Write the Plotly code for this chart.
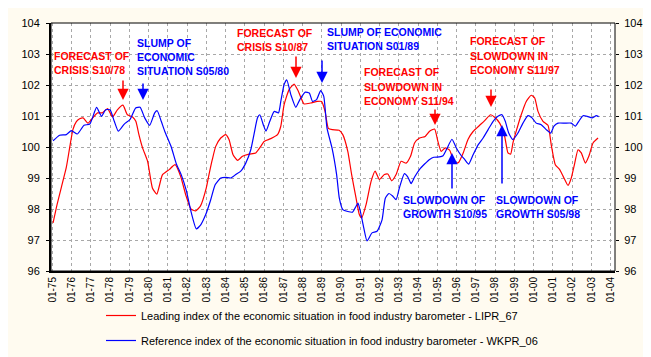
import plotly.graph_objects as go

# ---------------- data ----------------
lipr_years = [1975.04, 1975.25, 1975.47, 1975.73, 1975.9, 1976.07, 1976.25, 1976.42, 1976.6, 1976.85,
              1977.1, 1977.35, 1977.6, 1977.87, 1978.13, 1978.38, 1978.67, 1978.9, 1979.17, 1979.34,
              1979.5, 1979.69, 1979.95, 1980.2, 1980.43, 1980.72, 1981.07, 1981.38, 1981.67, 1981.93,
              1982.2, 1982.45, 1982.7, 1983.0, 1983.14, 1983.31, 1983.49, 1983.75, 1984.01, 1984.18,
              1984.39, 1984.62, 1984.88, 1985.22, 1985.57, 1985.83, 1986.0, 1986.35, 1986.7, 1986.87,
              1987.04, 1987.3, 1987.56, 1987.78, 1988.08, 1988.42, 1988.77, 1988.99, 1989.17, 1989.34,
              1989.55, 1989.9, 1990.09, 1990.35, 1990.55, 1990.78, 1990.95, 1991.07, 1991.3, 1991.56,
              1991.77, 1991.99, 1992.25, 1992.43, 1992.63, 1992.86, 1993.12, 1993.38, 1993.61, 1993.82,
              1994.08, 1994.37, 1994.6, 1994.86, 1995.03, 1995.2, 1995.41, 1995.64, 1995.9, 1996.1,
              1996.34, 1996.6, 1996.86, 1997.2, 1997.46, 1997.77, 1997.98, 1998.24, 1998.5, 1998.67,
              1998.81, 1998.93, 1999.1, 1999.36, 1999.62, 1999.88, 2000.06, 2000.23, 2000.49, 2000.75,
              2000.92, 2001.13, 2001.36, 2001.58, 2001.79, 2001.96, 2002.14, 2002.31, 2002.48, 2002.69,
              2002.87, 2003.09, 2003.35]
lipr_values = [97.55, 98.15, 98.7, 99.35, 99.97, 100.56, 100.82, 100.91, 100.94, 100.77,
               100.94, 101.1, 101.1, 101.24, 100.97, 101.2, 101.35, 101.04, 100.97, 100.83,
               100.4, 99.97, 99.54, 98.68, 98.48, 99.1, 99.27, 99.43, 99.05, 98.46,
               98.0, 97.94, 98.1, 98.68, 99.11, 99.59, 100.02, 100.29, 100.4, 100.24,
               99.75, 99.57, 99.7, 99.77, 99.81, 100.02, 100.18, 100.27, 100.4, 100.67,
               101.36, 101.85, 102.03, 101.8, 101.39, 101.42, 101.47, 101.47, 101.15, 100.6,
               100.56, 100.54, 100.4, 99.86, 99.11, 98.35, 97.82, 97.71, 98.14, 98.89,
               99.22, 98.95, 99.11, 99.13, 98.91, 99.11, 99.54, 99.48, 99.7, 100.13,
               100.29, 100.34, 100.51, 100.58, 100.18, 99.86, 99.97, 99.9, 99.48, 99.5,
               99.8, 100.25, 100.5, 100.7, 100.85, 101.04, 100.96, 100.77, 100.34, 99.81,
               99.77, 100.13, 100.51, 101.04, 101.47, 101.67, 101.58, 101.15, 100.83, 100.7,
               100.07, 99.43, 99.27, 99.0, 98.76, 99.0, 99.48, 99.91, 99.81, 99.48,
               99.7, 100.13, 100.29]

wkpr_years = [1975.04, 1975.38, 1975.73, 1975.99, 1976.3, 1976.65, 1976.95, 1977.3, 1977.56, 1977.77,
              1978.0, 1978.22, 1978.43, 1978.74, 1979.03, 1979.33, 1979.56, 1979.8, 1980.06, 1980.32,
              1980.45, 1980.66, 1980.84, 1981.18, 1981.44, 1981.7, 1981.96, 1982.2, 1982.48, 1982.71,
              1982.97, 1983.23, 1983.46, 1983.75, 1984.01, 1984.27, 1984.53, 1984.79, 1985.05, 1985.31,
              1985.49, 1985.66, 1985.78, 1985.96, 1986.1, 1986.3, 1986.53, 1986.75, 1986.87, 1987.04,
              1987.18, 1987.39, 1987.65, 1987.86, 1988.14, 1988.35, 1988.52, 1988.73, 1988.94, 1989.1,
              1989.27, 1989.53, 1989.77, 1989.91, 1990.09, 1990.35, 1990.6, 1990.78, 1990.88, 1991.0,
              1991.18, 1991.35, 1991.61, 1991.87, 1992.13, 1992.3, 1992.49, 1992.68, 1992.86, 1993.03,
              1993.29, 1993.47, 1993.64, 1993.82, 1994.08, 1994.34, 1994.6, 1994.82, 1995.11, 1995.3,
              1995.5, 1995.76, 1995.99, 1996.21, 1996.42, 1996.63, 1996.86, 1997.12, 1997.38, 1997.64,
              1997.9, 1998.15, 1998.36, 1998.53, 1998.71, 1998.93, 1999.19, 1999.45, 1999.71, 1999.92,
              2000.14, 2000.4, 2000.66, 2000.89, 2001.06, 2001.27, 2001.62, 2001.96, 2002.17, 2002.35,
              2002.57, 2002.79, 2003.04, 2003.26, 2003.38]
wkpr_values = [100.2, 100.38, 100.4, 100.53, 100.42, 100.7, 100.74, 101.28, 100.99, 101.2,
               101.2, 100.83, 100.51, 100.74, 100.88, 101.26, 101.28, 100.94, 100.7, 101.1,
               101.17, 100.83, 100.51, 100.0, 99.46, 99.1, 98.6, 97.93, 97.36, 97.49,
               97.82, 98.3, 98.78, 99.0, 99.02, 99.0, 99.11, 99.22, 99.48, 99.91,
               100.45, 100.94, 101.04, 100.72, 100.51, 100.83, 101.15, 101.1, 101.47, 102.01,
               102.17, 101.69, 101.28, 101.53, 101.77, 101.74, 101.47, 101.53, 101.82, 101.64,
               100.61, 99.97, 99.11, 98.35, 97.98, 97.92, 97.9, 98.09, 98.19, 97.93,
               97.39, 96.97, 97.23, 97.28, 97.65, 98.35, 98.5, 98.42, 98.3, 98.68,
               99.14, 99.03, 98.82, 99.03, 99.28, 99.45, 99.6, 99.67, 99.68, 99.72,
               99.95, 100.25, 99.97, 99.75, 99.6, 99.45, 99.75, 100.07, 100.29, 100.56,
               100.83, 100.99, 101.04, 100.83, 100.45, 100.24, 100.45, 100.77, 101.01, 100.94,
               100.77, 100.72, 100.56, 100.45, 100.67, 100.77, 100.77, 100.77, 100.67, 100.83,
               101.01, 100.99, 100.94, 101.01, 100.98]

tick_years = list(range(1975, 2005))
tick_labels = ["01-%02d" % (y % 100) for y in tick_years]
y_ticks = [96, 97, 98, 99, 100, 101, 102, 103, 104]

series_names = ["Leading index of the economic situation in food industry barometer - LIPR_67",
                "Reference index of the economic situation in food industry barometer - WKPR_06"]

RED = "#FF0000"
BLUE = "#0000FF"
BG = "#FFFBF0"

# plot area in pixels
W, H = 651, 357
L, R, T, B = 43, 607, 15, 263


def px(x):
    return (x - L) / (R - L)


def py(y):
    return (B - y) / (B - T)


fig = go.Figure()
fig.add_trace(go.Scatter(x=lipr_years, y=lipr_values, mode="lines", name=series_names[0],
                         line=dict(color=RED, width=1.2, shape="spline", smoothing=0.5),
                         legendgroup="a"))
fig.add_trace(go.Scatter(x=wkpr_years, y=wkpr_values, mode="lines", name=series_names[1],
                         line=dict(color=BLUE, width=1.2, shape="spline", smoothing=0.5),
                         legendgroup="b", yaxis="y2"))

font_main = "Liberation Sans, Arial, sans-serif"

# (lines, colour, left x px, centre y px of each line)
texts = [
    (["FORECAST OF", "CRISIS S10/78"], RED, 45, [48, 62]),
    (["SLUMP OF", "ECONOMIC", "SITUATION S05/80"], BLUE, 128, [35, 49, 63]),
    (["FORECAST OF", "CRISIS S10/87"], RED, 228, [25, 39]),
    (["SLUMP OF ECONOMIC", "SITUATION S01/89"], BLUE, 318, [24, 38]),
    (["FORECAST OF", "SLOWDOWN IN", "ECONOMY S11/94"], RED, 355, [64, 78.5, 93]),
    (["FORECAST OF", "SLOWDOWN IN", "ECONOMY S11/97"], RED, 461, [33, 47.5, 62]),
    (["SLOWDOWN OF", "GROWTH S10/95"], BLUE, 394, [192, 206]),
    (["SLOWDOWN OF", "GROWTH S05/98"], BLUE, 487, [192, 206]),
]
annotations = []
for lines, c, x, ys in texts:
    for t, y in zip(lines, ys):
        annotations.append(dict(text="<b>%s</b>" % t, x=px(x), y=py(y), xref="paper", yref="paper",
                                xanchor="left", yanchor="middle", align="left", showarrow=False,
                                borderpad=0, font=dict(family=font_main, size=10.5, color=c)))

arrows = [
    (RED, 115, 71, 92), (BLUE, 135, 74, 92), (RED, 288, 47, 70), (BLUE, 314, 51, 75),
    (RED, 427, 100, 117), (RED, 483, 80, 99), (BLUE, 444, 182, 145), (BLUE, 494, 177, 117),
]
for c, x, y0, y1 in arrows:
    annotations.append(dict(text="", x=px(x), y=py(y1), xref="paper", yref="paper",
                            ax=0, ay=y0 - y1, showarrow=True, arrowhead=2, arrowsize=1.5,
                            arrowwidth=1.5, arrowcolor=c))

axis_font = dict(family=font_main, size=11, color="black")
x0 = 1975 + (L - 44.3) / 19.25
x1 = 1975 + (R - 44.3) / 19.25

fig.update_layout(
    width=W, height=H,
    margin=dict(l=L, r=W - R, t=T, b=H - B, autoexpand=False),
    paper_bgcolor=BG, plot_bgcolor="white",
    xaxis=dict(range=[x0, x1], tickvals=tick_years, ticktext=tick_labels, tickangle=-90,
               tickfont=dict(family=font_main, size=10, color="black"),
               showgrid=True, gridcolor="#A8A8A8", griddash="dot", gridwidth=1,
               showline=True, linecolor="black", linewidth=2, ticks="", zeroline=False),
    yaxis=dict(range=[96, 104], tickvals=y_ticks, tickfont=axis_font,
               showgrid=True, gridcolor="#A8A8A8", griddash="dot", gridwidth=1,
               showline=True, linecolor="black", linewidth=2, ticks="outside", ticklen=3,
               tickcolor="black", zeroline=False, ticklabelstandoff=4),
    yaxis2=dict(range=[96, 104], tickvals=y_ticks, tickfont=axis_font, overlaying="y",
                side="right", showgrid=False, showline=False, ticks="outside", ticklen=3,
                tickcolor="black", zeroline=False, ticklabelstandoff=3),
    showlegend=True,
    legend=dict(x=px(93), xanchor="left", y=py(293), yanchor="top", bgcolor="rgba(0,0,0,0)",
                font=dict(family=font_main, size=11, color="black"), tracegroupgap=6,
                traceorder="grouped"),
    annotations=annotations,
    shapes=[dict(type="rect", xref="paper", yref="paper", x0=0, y0=0, x1=1, y1=1,
                 line=dict(color="black", width=1), layer="above")],
)

fig.write_html("out.html")
